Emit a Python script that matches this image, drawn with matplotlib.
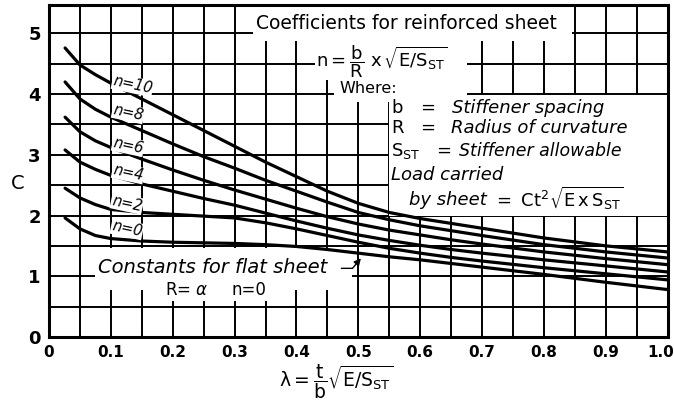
import matplotlib
matplotlib.use("Agg")
import matplotlib.pyplot as plt
from matplotlib.patches import Rectangle
from matplotlib.transforms import ScaledTranslation

# --- data ---
lam = [0.026, 0.05, 0.075, 0.1, 0.15, 0.2, 0.25, 0.3, 0.35, 0.4, 0.45,
       0.5, 0.55, 0.6, 0.65, 0.7, 0.8, 0.9, 1.0]

c_n10 = [4.76, 4.48, 4.32, 4.18, 3.92, 3.66, 3.40, 3.14, 2.88, 2.64, 2.40,
         2.20, 2.05, 1.95, 1.87, 1.79, 1.63, 1.50, 1.40]
c_n8 = [4.20, 3.92, 3.75, 3.62, 3.40, 3.18, 2.97, 2.78, 2.58, 2.40, 2.22,
        2.05, 1.93, 1.83, 1.75, 1.67, 1.52, 1.40, 1.30]
c_n6 = [3.62, 3.38, 3.23, 3.12, 2.93, 2.75, 2.58, 2.42, 2.27, 2.12, 1.98,
        1.86, 1.76, 1.68, 1.60, 1.53, 1.40, 1.29, 1.19]
c_n4 = [3.08, 2.88, 2.76, 2.66, 2.52, 2.40, 2.28, 2.17, 2.04, 1.91, 1.79,
        1.68, 1.59, 1.51, 1.44, 1.38, 1.27, 1.17, 1.07]
c_n2 = [2.45, 2.29, 2.18, 2.10, 2.05, 2.02, 1.99, 1.96, 1.88, 1.78, 1.67,
        1.56, 1.46, 1.38, 1.31, 1.25, 1.14, 1.04, 0.94]
c_n0 = [1.96, 1.78, 1.67, 1.62, 1.58, 1.56, 1.55, 1.54, 1.52, 1.49, 1.44,
        1.38, 1.32, 1.27, 1.21, 1.15, 1.03, 0.90, 0.78]

curves = [c_n10, c_n8, c_n6, c_n4, c_n2, c_n0]
curve_labels = ["n=10", "n=8", "n=6", "n=4", "n=2", "n=0"]
label_pos = [(0.135, 4.15), (0.128, 3.69), (0.128, 3.15), (0.128, 2.70),
             (0.126, 2.20), (0.126, 1.78)]

x_ticks = [0, 0.1, 0.2, 0.3, 0.4, 0.5, 0.6, 0.7, 0.8, 0.9, 1.0]
x_ticklabels = ["0", "0.1", "0.2", "0.3", "0.4", "0.5", "0.6", "0.7", "0.8", "0.9", "1.0"]
y_ticks = [0, 1, 2, 3, 4, 5]

# white patches where the lettering hides the grid (x0, y0, x1, y1)
masks = [(0.33, 4.87, 0.845, 5.5),
         (0.43, 4.23, 0.675, 4.87),
         (0.46, 3.87, 0.675, 4.23),
         (0.55, 2.0, 1.0, 3.98),
         (0.075, 0.78, 0.49, 1.47)]

plt.rcParams['font.family'] = ['DejaVu Sans']

fig = plt.figure(figsize=(6.74, 4.04), dpi=100)
ax = fig.add_axes([0.0727, 0.166, 0.918, 0.822])
ax.set_xlim(0, 1.0)
ax.set_ylim(0, 5.47)

# grid: every 0.05 in lambda, every 0.5 in C
for i in range(1, 20):
    ax.axvline(i * 0.05, color='black', lw=1.4, zorder=1)
for i in range(1, 11):
    ax.axhline(i * 0.5, color='black', lw=1.4, zorder=1)

for x0, y0, x1, y1 in masks:
    ax.add_patch(Rectangle((x0, y0), x1 - x0, y1 - y0, facecolor='white',
                           edgecolor='none', zorder=2))

for c in curves:
    ax.plot(lam, c, color='black', lw=2.3, zorder=3, solid_capstyle='round')

for (tx, ty), lab in zip(label_pos, curve_labels):
    ax.text(tx, ty, lab, fontsize=10.5, style='italic', ha='center', va='center',
            rotation=-12, zorder=4,
            bbox=dict(facecolor='white', edgecolor='none', pad=0.5))

ax.set_xticks(x_ticks)
ax.set_xticklabels(x_ticklabels, fontsize=11, fontweight='bold')
ax.set_yticks(y_ticks)
ax.set_yticklabels([str(v) for v in y_ticks], fontsize=13, fontweight='bold')
ax.tick_params(length=0, pad=6)
last = ax.get_xticklabels()[-1]
last.set_transform(last.get_transform() + ScaledTranslation(-5 / 72, 0, fig.dpi_scale_trans))
for s in ax.spines.values():
    s.set_linewidth(2.2)
    s.set_zorder(5)

ax.text(-0.05, 2.52, "C", fontsize=14, ha='center', va='center')
ax.text(0.465, -0.74, r'$\mathregular{\lambda = \dfrac{t}{b}\sqrt{E/S_{ST}}}$',
        fontsize=13.5, ha='center', va='center')

# title block for reinforced sheet
ax.text(0.335, 5.16, "Coefficients for reinforced sheet", fontsize=13.5,
        ha='left', va='center', zorder=4)
ax.text(0.432, 4.53, r'$\mathregular{n = \dfrac{b}{R}\ x\,\sqrt{E/S_{ST}}}$',
        fontsize=13, ha='left', va='center', zorder=4)
ax.text(0.47, 4.10, "Where:", fontsize=11.5, ha='left', va='center', zorder=4)
ax.text(0.553, 3.77, "b", fontsize=13, ha='left', va='center', zorder=4)
ax.text(0.553, 3.44, "R", fontsize=13, ha='left', va='center', zorder=4)
ax.text(0.553, 3.06, r'$\mathregular{S_{ST}}$', fontsize=13, ha='left', va='center', zorder=4)
ax.text(0.600, 3.77, "=", fontsize=13, ha='left', va='center', zorder=4)
ax.text(0.600, 3.44, "=", fontsize=13, ha='left', va='center', zorder=4)
ax.text(0.626, 3.06, "=", fontsize=13, ha='left', va='center', zorder=4)
ax.text(0.652, 3.77, "Stiffener spacing", fontsize=13, style='italic',
        ha='left', va='center', zorder=4)
ax.text(0.650, 3.44, "Radius of curvature", fontsize=13, style='italic',
        ha='left', va='center', zorder=4)
ax.text(0.662, 3.06, "Stiffener allowable", fontsize=12.5, style='italic',
        ha='left', va='center', zorder=4)
ax.text(0.553, 2.67, "Load carried", fontsize=13, style='italic',
        ha='left', va='center', zorder=4)
ax.text(0.582, 2.26, "by sheet", fontsize=13, style='italic',
        ha='left', va='center', zorder=4)
ax.text(0.718, 2.28, r'$\mathregular{=\ Ct^2\sqrt{E\,x\,S_{ST}}}$',
        fontsize=13, ha='left', va='center', zorder=4)

# flat sheet note
ax.text(0.08, 1.14, "Constants for flat sheet", fontsize=14, style='italic',
        ha='left', va='center', zorder=4)
ax.text(0.188, 0.78, r'R= $\alpha$', fontsize=12, ha='left', va='center', zorder=4,
        bbox=dict(facecolor='white', edgecolor='none', pad=1.5))
ax.text(0.295, 0.78, "n=0", fontsize=12, ha='left', va='center', zorder=4,
        bbox=dict(facecolor='white', edgecolor='none', pad=1.5))
ax.annotate("", xy=(0.507, 1.33), xytext=(0.468, 1.13),
            arrowprops=dict(arrowstyle='-|>', color='black', lw=1.0,
                            connectionstyle='angle,angleA=0,angleB=50'),
            zorder=4)

fig.savefig("out.png", dpi=100)
